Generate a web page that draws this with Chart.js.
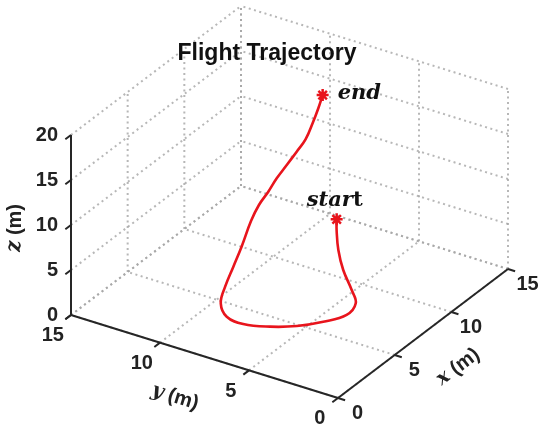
<!DOCTYPE html>
<html>
<head>
<meta charset="utf-8">
<script src="https://cdn.jsdelivr.net/npm/chart.js@4.4.0/dist/chart.umd.min.js"></script>
<style>body{margin:0;background:#fff}</style>
</head>
<body>
<canvas id="c" width="550" height="431"></canvas>
<script>
// flight trajectory, metres (start -> end)
const trajX=[7.28,7.29,7.02,6.98,6.88,6.78,6.18,5.17,4.14,3.40,2.93,2.89,3.32,3.69,4.29,4.81,5.69,5.95,6.32,6.75,7.21,7.68,8.02,8.79,9.29,9.75];
const trajY=[4.71,4.72,4.45,4.15,3.61,3.32,3.45,4.12,4.95,5.98,7.19,8.09,8.70,8.69,8.61,8.48,8.51,8.23,7.94,7.74,7.47,7.21,6.93,6.99,7.02,7.07];
const trajZ=[10,8.8,7,5,3.2,2,1.2,1,1,1,1,1.3,2,3.5,5.2,7,9,10.7,12,13.2,14.4,15.6,16.8,18,19,20];
const xTicks=[0,5,10,15];
const yTicks=[0,5,10,15];
const zTicks=[0,5,10,15,20];
const xMax=15,yMax=15,zMax=20;

// 3d view -> flat plot units
const view={ox:338,oy:398,ex:[170/15,-129/15],ey:[-267/15,-83/15],ez:[0,-9]};
function proj(x,y,z){
  return {x:view.ox+x*view.ex[0]+y*view.ey[0]+z*view.ez[0],
          y:view.oy+x*view.ex[1]+y*view.ey[1]+z*view.ez[1]};
}

const gridStyle={borderColor:'rgba(165,165,165,0.8)',borderWidth:2,borderDash:[2,3.5],order:3};
const axisStyle={borderColor:'#262626',borderWidth:2,order:2};
function seg(a,b,style){
  return Object.assign({data:[proj(a[0],a[1],a[2]),proj(b[0],b[1],b[2])],showLine:true,pointRadius:0,clip:false,fill:false},style);
}

const datasets=[];
// floor z=0
xTicks.forEach(t=>datasets.push(seg([t,0,0],[t,yMax,0],gridStyle)));
yTicks.forEach(t=>datasets.push(seg([0,t,0],[xMax,t,0],gridStyle)));
// back wall y=15
xTicks.forEach(t=>datasets.push(seg([t,yMax,0],[t,yMax,zMax],gridStyle)));
zTicks.forEach(t=>datasets.push(seg([0,yMax,t],[xMax,yMax,t],gridStyle)));
// back wall x=15
yTicks.forEach(t=>datasets.push(seg([xMax,t,0],[xMax,t,zMax],gridStyle)));
zTicks.forEach(t=>datasets.push(seg([xMax,0,t],[xMax,yMax,t],gridStyle)));

// axis lines + ticks
datasets.push(seg([0,0,0],[xMax,0,0],axisStyle));
datasets.push(seg([0,0,0],[0,yMax,0],axisStyle));
datasets.push(seg([0,yMax,0],[0,yMax,zMax],axisStyle));
xTicks.forEach(t=>datasets.push(seg([t,0,0],[t,-0.4,0],axisStyle)));
yTicks.forEach(t=>datasets.push(seg([0,t,0],[-0.5,t,0],axisStyle)));
zTicks.forEach(t=>datasets.push(seg([0,yMax,t],[-0.5,yMax,t],axisStyle)));

// trajectory
const trajPts=trajX.map((x,i)=>proj(x,trajY[i],trajZ[i]));
datasets.push({data:trajPts,showLine:true,pointRadius:0,borderColor:'#e8141c',borderWidth:2.6,tension:0.4,clip:false,order:1});
datasets.push({data:[trajPts[0],trajPts[trajPts.length-1]],showLine:false,pointStyle:'star',pointRadius:6,
  borderColor:'#e8141c',backgroundColor:'#e8141c',pointBorderWidth:2.5,clip:false,order:0});

const sans='bold 20px "Liberation Sans", Arial, sans-serif';
const serifIt='bold italic 20px "DejaVu Serif", serif';
const lblIt='bold italic 21px "DejaVu Serif", serif';
const lblUp='bold 21px "DejaVu Serif", serif';

function drawParts(ctx,parts,cx,cy,angle){
  ctx.save();ctx.translate(cx,cy);ctx.rotate(angle||0);
  let w=0;
  parts.forEach(p=>{ctx.font=p.font;p.w=ctx.measureText(p.text).width;w+=p.w;});
  let x=-w/2;
  ctx.textBaseline='middle';ctx.textAlign='left';
  parts.forEach(p=>{ctx.font=p.font;ctx.fillText(p.text,x,0);x+=p.w;});
  ctx.restore();
}

const labels3d={
  id:'labels3d',
  afterDatasetsDraw(chart){
    const ctx=chart.ctx,sx=chart.scales.x,sy=chart.scales.y;
    const px=p=>({x:sx.getPixelForValue(p.x),y:sy.getPixelForValue(p.y)});
    ctx.save();
    ctx.fillStyle='#222';
    ctx.font=sans;ctx.textBaseline='middle';
    ctx.textAlign='center';
    xTicks.forEach(t=>{const p=px(proj(t,-1.1,-1));ctx.fillText(String(t),p.x,p.y);});
    yTicks.forEach(t=>{const p=px(proj(-1.6,t,-0.8));ctx.fillText(String(t),p.x,p.y);});
    ctx.textAlign='right';
    zTicks.forEach(t=>{const p=px(proj(0,yMax,t));ctx.fillText(String(t),p.x-13,p.y);});

    drawParts(ctx,[{text:'z',font:serifIt},{text:' (m)',font:sans}],15,228,-Math.PI/2);
    drawParts(ctx,[{text:'y',font:serifIt},{text:' (m)',font:sans}],175,397,Math.atan2(83,267));
    drawParts(ctx,[{text:'x',font:serifIt},{text:' (m)',font:sans}],458,367,Math.atan2(-129,170));

    ctx.font='bold 23px "Liberation Sans", Arial, sans-serif';
    ctx.textAlign='center';ctx.fillStyle='#111';
    ctx.fillText('Flight Trajectory',267,54);

    const s=px(trajPts[0]),e=px(trajPts[trajPts.length-1]);
    drawParts(ctx,[{text:'star',font:lblIt},{text:'t',font:lblUp}],s.x-2,s.y-19,0);
    ctx.font=lblIt;ctx.textAlign='left';ctx.textBaseline='middle';
    ctx.fillText('end',e.x+15,e.y-1);
    ctx.restore();
  }
};

new Chart(document.getElementById('c'),{
  type:'scatter',
  data:{datasets},
  options:{
    responsive:false,animation:false,
    layout:{padding:0,autoPadding:false},
    scales:{
      x:{type:'linear',min:0,max:550,display:false},
      y:{type:'linear',min:0,max:431,reverse:true,display:false}
    },
    plugins:{legend:{display:false},tooltip:{enabled:false}}
  },
  plugins:[labels3d]
});
</script>
</body>
</html>
